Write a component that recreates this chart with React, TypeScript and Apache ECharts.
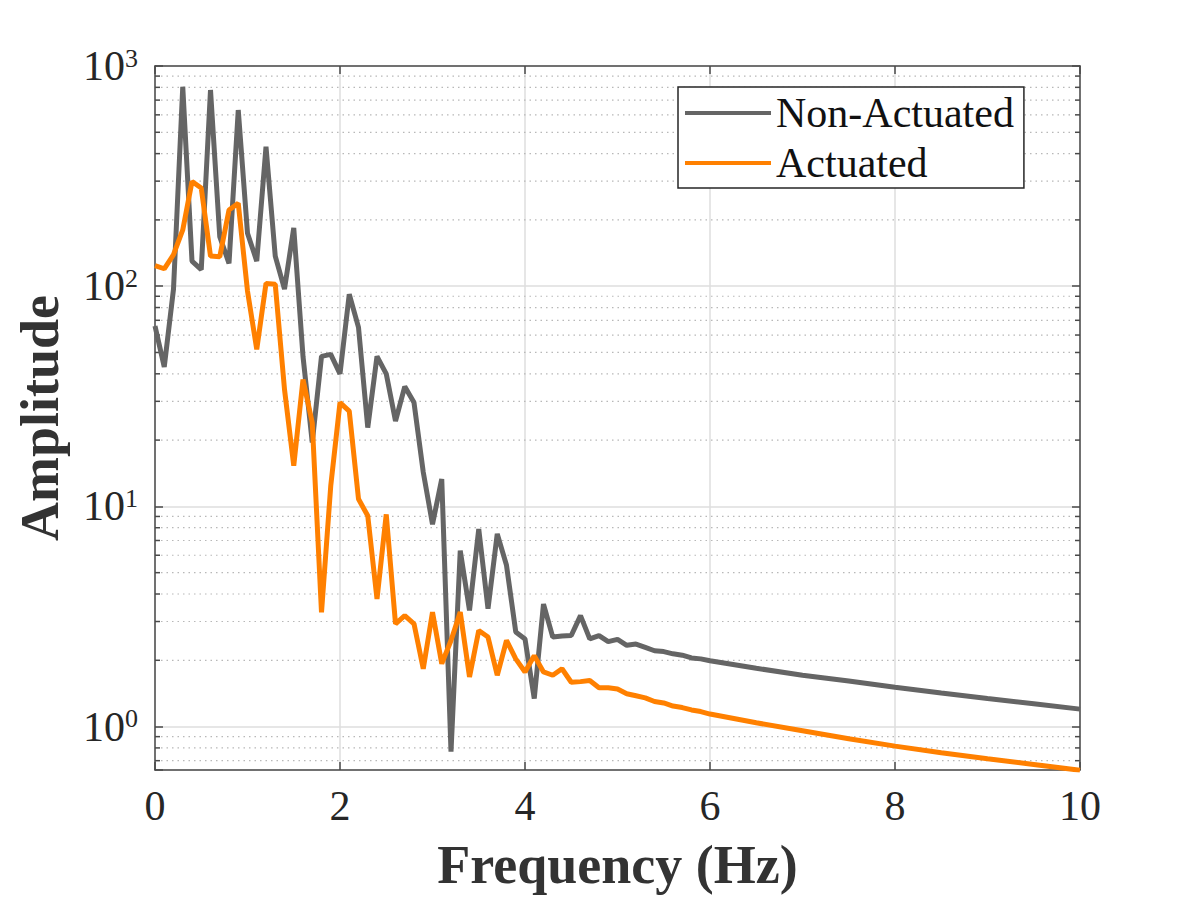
import React, { useEffect, useRef } from "react";
import * as echarts from "echarts";

const freq = [
  0.0, 0.1, 0.2, 0.3, 0.4, 0.5, 0.6, 0.7, 0.8, 0.9,
  1.0, 1.1, 1.2, 1.3, 1.4, 1.5, 1.6, 1.7, 1.8, 1.9,
  2.0, 2.1, 2.2, 2.3, 2.4, 2.5, 2.6, 2.7, 2.8, 2.9,
  3.0, 3.1, 3.2, 3.3, 3.4, 3.5, 3.6, 3.7, 3.8, 3.9,
  4.0, 4.1, 4.2, 4.3, 4.4, 4.5, 4.6, 4.7, 4.8, 4.9,
  5.0, 5.1, 5.2, 5.3, 5.4, 5.5, 5.6, 5.7, 5.8, 5.9,
  6.0, 6.5, 7.0, 7.5, 8.0, 8.5, 9.0, 9.5, 10.0,
];

const nonActuated = [
  66, 43, 97, 805, 130, 119, 778, 168, 127, 631,
  174, 130, 430, 137, 97, 184, 48, 19.5, 48, 49,
  40, 92, 65, 22.8, 48, 40, 24.4, 35, 29.6, 14.3,
  8.3, 13.3, 0.77, 6.3, 3.37, 7.9, 3.43, 7.5, 5.4, 2.69,
  2.5, 1.34, 3.6, 2.55, 2.58, 2.59, 3.19, 2.5, 2.59, 2.43,
  2.49, 2.34, 2.37, 2.29, 2.21, 2.19, 2.14, 2.11, 2.05, 2.03,
  1.99, 1.84, 1.71, 1.61, 1.51, 1.42, 1.34, 1.27, 1.2,
];

const actuated = [
  124, 120, 139, 180, 299, 279, 137, 136, 222, 238,
  95, 51.6, 103, 102, 34, 15.3, 37.7, 24, 3.3, 12.4,
  29.6, 27.1, 10.8, 9.06, 3.8, 9.2, 2.93, 3.19, 2.93, 1.83,
  3.31, 1.93, 2.46, 3.31, 1.68, 2.73, 2.55, 1.71, 2.46, 2.03,
  1.77, 2.1, 1.77, 1.71, 1.83, 1.59, 1.6, 1.62, 1.5, 1.5,
  1.48, 1.41, 1.38, 1.35, 1.3, 1.28, 1.24, 1.22, 1.19, 1.17,
  1.14, 1.04, 0.957, 0.88, 0.815, 0.76, 0.714, 0.673, 0.634,
];

const minorTicks = [
  0.7, 0.8, 0.9,
  2, 3, 4, 5, 6, 7, 8, 9,
  20, 30, 40, 50, 60, 70, 80, 90,
  200, 300, 400, 500, 600, 700, 800, 900,
];

const FONT = "'Liberation Serif', 'Times New Roman', serif";
const AXIS_COLOR = "#4a4a4a";
const TEXT_COLOR = "#262626";

export default function App() {
  const ref = useRef<HTMLDivElement>(null);

  useEffect(() => {
    const chart = echarts.init(ref.current!, null, { renderer: "svg" });
    const yLabel = (v: number) => {
      const l = Math.log10(v);
      const e = Math.round(l);
      if (Math.abs(l - e) > 1e-6) return "";
      return `{b|10}{s|${e}}`;
    };
    const option: any = {
      animation: false,
      backgroundColor: "#ffffff",
      grid: { left: 155, top: 66, width: 925, height: 705, containLabel: false },
      legend: {
        data: ["Non-Actuated", "Actuated"],
        orient: "vertical",
        left: 678,
        top: 87,
        padding: [5, 10, 4, 7],
        icon: "rect",
        itemWidth: 86,
        itemHeight: 4,
        itemGap: 8,
        borderColor: "#262626",
        borderWidth: 1.5,
        borderRadius: 0,
        backgroundColor: "#ffffff",
        textStyle: { fontFamily: FONT, fontSize: 42, lineHeight: 40, color: "#111111" },
      },
      xAxis: [
        {
          type: "value",
          min: 0,
          max: 10,
          interval: 2,
          position: "bottom",
          name: "Frequency (Hz)",
          nameLocation: "middle",
          nameGap: 68,
          nameTextStyle: { fontFamily: FONT, fontSize: 54, fontWeight: "bold", color: "#333333" },
          axisLine: { show: true, onZero: false, lineStyle: { color: AXIS_COLOR, width: 1.5 } },
          axisTick: { show: true, inside: true, length: 8, lineStyle: { color: AXIS_COLOR, width: 1.5 } },
          axisLabel: { fontFamily: FONT, fontSize: 42, color: TEXT_COLOR, margin: 15 },
          splitLine: { show: true, lineStyle: { color: "#dedede", width: 1.5 } },
        },
        {
          type: "value",
          min: 0,
          max: 10,
          interval: 2,
          position: "top",
          axisLine: { show: true, onZero: false, lineStyle: { color: AXIS_COLOR, width: 1.5 } },
          axisTick: { show: true, inside: true, length: 8, lineStyle: { color: AXIS_COLOR, width: 1.5 } },
          axisLabel: { show: false },
          splitLine: { show: false },
        },
      ],
      yAxis: [
        {
          type: "log",
          logBase: 10,
          min: 0.635,
          max: 1000,
          position: "left",
          name: "Amplitude",
          nameLocation: "middle",
          nameGap: 88,
          nameRotate: 90,
          nameTextStyle: { fontFamily: FONT, fontSize: 54, fontWeight: "bold", color: "#333333" },
          axisLine: { show: true, onZero: false, lineStyle: { color: AXIS_COLOR, width: 1.5 } },
          axisTick: { show: true, inside: true, length: 8, lineStyle: { color: AXIS_COLOR, width: 1.5 } },
          axisLabel: {
            formatter: yLabel,
            margin: 17,
            color: TEXT_COLOR,
            rich: {
              b: { fontFamily: FONT, fontSize: 42, lineHeight: 42, color: TEXT_COLOR },
              s: { fontFamily: FONT, fontSize: 26, lineHeight: 26, color: TEXT_COLOR, verticalAlign: "top" },
            },
          },
          splitLine: { show: true, lineStyle: { color: "#dedede", width: 1.5 } },
        },
        {
          type: "log",
          logBase: 10,
          min: 0.635,
          max: 1000,
          position: "right",
          axisLine: { show: true, onZero: false, lineStyle: { color: AXIS_COLOR, width: 1.5 } },
          axisTick: { show: true, inside: true, length: 8, lineStyle: { color: AXIS_COLOR, width: 1.5 } },
          axisLabel: { show: false },
          splitLine: { show: false },
        },
      ],
      series: [
        {
          type: "custom",
          name: "minor",
          xAxisIndex: 0,
          yAxisIndex: 0,
          silent: true,
          z: 1,
          data: minorTicks.map((v) => [0, v]),
          encode: { x: 0, y: 1 },
          renderItem: (params: any, api: any) => {
            const v = api.value(1);
            const p = api.coord([0, v]);
            const cs = params.coordSys;
            const y = p[1];
            return {
              type: "group",
              children: [
                {
                  type: "line",
                  shape: { x1: cs.x + 6, y1: y, x2: cs.x + cs.width - 6, y2: y },
                  style: { stroke: "#b8b8b8", lineWidth: 1.2, lineDash: [1.5, 4] },
                },
                {
                  type: "line",
                  shape: { x1: cs.x, y1: y, x2: cs.x + 5, y2: y },
                  style: { stroke: AXIS_COLOR, lineWidth: 1.5 },
                },
                {
                  type: "line",
                  shape: { x1: cs.x + cs.width - 5, y1: y, x2: cs.x + cs.width, y2: y },
                  style: { stroke: AXIS_COLOR, lineWidth: 1.5 },
                },
              ],
            };
          },
        },
        {
          type: "line",
          name: "Non-Actuated",
          data: freq.map((f, i) => [f, nonActuated[i]]),
          showSymbol: false,
          symbol: "none",
          z: 3,
          lineStyle: { color: "#656565", width: 5 },
          itemStyle: { color: "#656565" },
        },
        {
          type: "line",
          name: "Actuated",
          data: freq.map((f, i) => [f, actuated[i]]),
          showSymbol: false,
          symbol: "none",
          z: 3,
          lineStyle: { color: "#ff8000", width: 5 },
          itemStyle: { color: "#ff8000" },
        },
      ],
    };
    chart.setOption(option);
    return () => chart.dispose();
  }, []);

  return (
    <div
      ref={ref}
      style={{ position: "fixed", left: 0, top: 0, width: 1196, height: 897, background: "#ffffff" }}
    />
  );
}
